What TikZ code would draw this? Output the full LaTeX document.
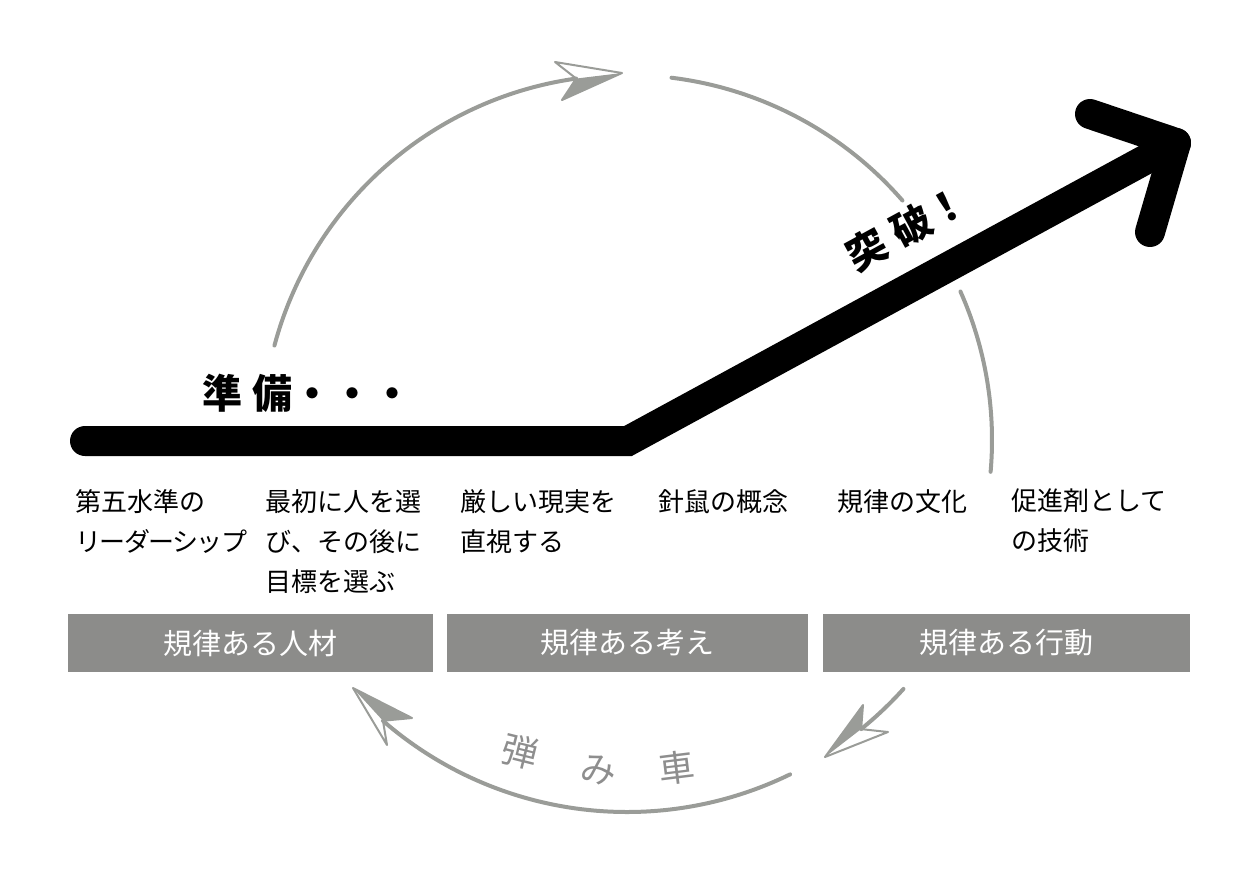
\documentclass[tikz,border=0pt]{standalone}
\usepackage{fontspec}
\newfontfamily\jp{Noto Sans CJK JP}
\usetikzlibrary{calc}
\definecolor{arcgray}{HTML}{9A9C98}
\definecolor{boxgray}{HTML}{8C8C8A}
\definecolor{wheelgray}{HTML}{8E8E8E}
\begin{document}
\begin{tikzpicture}[x=1pt,y=-1pt,
  arcline/.style={draw=arcgray, line width=4pt, line cap=round},
  headopen/.style={draw=arcgray, line width=2pt, line join=round},
  headfill/.style={fill=arcgray},
  bigarrow/.style={line width=30pt, line cap=round, line join=miter},
  item/.style={anchor=north west, inner sep=0pt, align=left, font=\jp\fontsize{26}{40}\selectfont},
  band/.style={fill=boxgray, minimum height=58pt, inner sep=0pt, text=white, font=\jp\fontsize{29}{29}\selectfont},
  wheel/.style={text=wheelgray, inner sep=0pt, font=\jp\fontsize{36}{36}\selectfont}
]
\useasboundingbox (0,0) rectangle (1242,871);
\coordinate (C) at (627,440);

% upper gray circle pieces
\draw[arcline] ($(C)+(195:365)$) coordinate (a1s) arc[start angle=195, end angle=262, radius=365] coordinate (n1);
\draw[arcline] ($(C)+(277:365)$) coordinate (a2s) arc[start angle=277, end angle=319, radius=365] coordinate (a2e);
\draw[arcline] ($(C)+(336:365)$) coordinate (a3s) arc[start angle=336, end angle=365, radius=365] coordinate (a3e);
% top arrowhead
\coordinate (t1) at (622,73);
\coordinate (u1) at (555,62);
\coordinate (l1) at (562,100);
\fill[headfill] (t1) -- (n1) -- (l1) -- cycle;
\draw[headopen] (t1) -- (u1) -- (n1) -- (l1) -- cycle;

% lower gray pieces
\draw[arcline] ($(C)+(42:372)$) coordinate (b1s) arc[start angle=42, end angle=51, radius=372] coordinate (n2);
\coordinate (t2) at (825,757);
\coordinate (u2) at (863,705);
\coordinate (l2) at (888,732);
\fill[headfill] (t2) -- (u2) -- (n2) -- cycle;
\draw[headopen] (t2) -- (u2) -- (n2) -- (l2) -- cycle;

\draw[arcline] ($(C)+(64:372)$) coordinate (b2s) arc[start angle=64, end angle=131, radius=372] coordinate (n3);
\coordinate (t3) at (353,688);
\coordinate (u3) at (412,718);
\coordinate (l3) at (387,745);
\fill[headfill] (t3) -- (u3) -- (n3) -- cycle;
\draw[headopen] (t3) -- (u3) -- (n3) -- (l3) -- cycle;

% big black arrow
\coordinate (s) at (85,441);
\coordinate (k) at (628,441);
\coordinate (tip) at (1176,143);
\coordinate (h1) at (1090,114);
\coordinate (h2) at (1150,232);
\draw[bigarrow] (s) -- (k) -- (tip);
\draw[bigarrow, line join=round] (h1) -- (tip) -- (h2);

% labels on the arrow
\node[anchor=west, inner sep=0pt, font=\jp\fontsize{40}{40}\selectfont\bfseries] (prep) at (202,393) {準\hspace{10pt}備・・・};
\node[rotate=28.6, inner sep=0pt, font=\jp\fontsize{40}{40}\selectfont\bfseries] (brk) at (907,228) {突\hspace{11pt}破！};

% item texts
\node[item] (c1) at (75,489) {第五水準の\\{\addfontfeature{LetterSpace=-6}リーダーシップ}};
\node[item] (c2) at (265,489) {最初に人を選\\び、その後に\\目標を選ぶ};
\node[item] (c3) at (460,489) {厳しい現実を\\直視する};
\node[item] (c4) at (658,489) {針鼠の概念};
\node[item] (c5) at (837,489) {規律の文化};
\node[item] (c6) at (1011,489) {促進剤として\\の技術};

% bands
\node[band, minimum width=365pt] (p1) at (250.5,643) {規律ある人材};
\node[band, minimum width=361pt] (p2) at (627.5,643) {規律ある考え};
\node[band, minimum width=367pt] (p3) at (1006.5,643) {規律ある行動};

% flywheel
\node[wheel, rotate=-14] (w1) at (520,752) {弾};
\node[wheel, rotate=-4] (w2) at (598,770) {み};
\node[wheel, rotate=7] (w3) at (677,768) {車};
\end{tikzpicture}
\end{document}
